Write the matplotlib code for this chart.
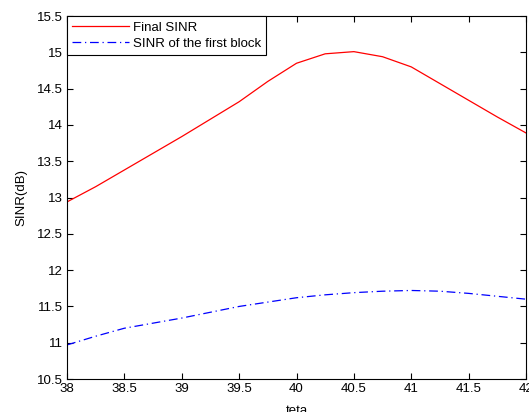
import numpy as np
import matplotlib
matplotlib.use('Agg')
import matplotlib.pyplot as plt

plt.rcParams['font.family'] = ['Liberation Sans', 'DejaVu Sans']

teta = [38, 38.25, 38.5, 38.75, 39, 39.25, 39.5, 39.75, 40,
        40.25, 40.5, 40.75, 41, 41.25, 41.5, 41.75, 42]
final_sinr = [12.94, 13.15, 13.38, 13.61, 13.84, 14.08, 14.32, 14.60, 14.85,
              14.98, 15.01, 14.94, 14.80, 14.57, 14.34, 14.11, 13.89]
first_block = [10.97, 11.09, 11.20, 11.27, 11.34, 11.42, 11.50, 11.56, 11.62,
               11.66, 11.69, 11.71, 11.72, 11.71, 11.68, 11.64, 11.60]

fig = plt.figure(figsize=(5.29, 4.12), dpi=100)
ax = fig.add_axes([0.1267, 0.080, 0.8676, 0.881])

ax.plot(teta, final_sinr, color='red', lw=0.9, label='Final SINR')
ax.plot(teta, first_block, color='blue', lw=0.9, linestyle=(0, (7, 3, 1, 3)),
        label='SINR of the first block')

ax.set_xlim(38, 42)
ax.set_ylim(10.5, 15.5)
ax.set_xticks(np.arange(38, 42.01, 0.5))
ax.set_xticklabels(['38', '38.5', '39', '39.5', '40', '40.5', '41', '41.5', '42'])
ax.set_yticks(np.arange(10.5, 15.51, 0.5))
ax.set_yticklabels(['10.5', '11', '11.5', '12', '12.5', '13', '13.5', '14', '14.5', '15', '15.5'])
ax.tick_params(direction='in', top=True, right=True, labelsize=9.5, length=4, pad=3)
for s in ax.spines.values():
    s.set_linewidth(0.8)

ax.set_xlabel('teta', fontsize=9.5, labelpad=7)
ax.set_ylabel('SINR(dB)', fontsize=9.5, labelpad=7)

leg = ax.legend(loc='upper left', fontsize=9.5, fancybox=False, edgecolor='black',
                framealpha=1, borderaxespad=0, handlelength=4.3, handletextpad=0.3,
                labelspacing=0.3, borderpad=0.4)
leg.get_frame().set_linewidth(0.8)

fig.savefig('out.png', dpi=100)
